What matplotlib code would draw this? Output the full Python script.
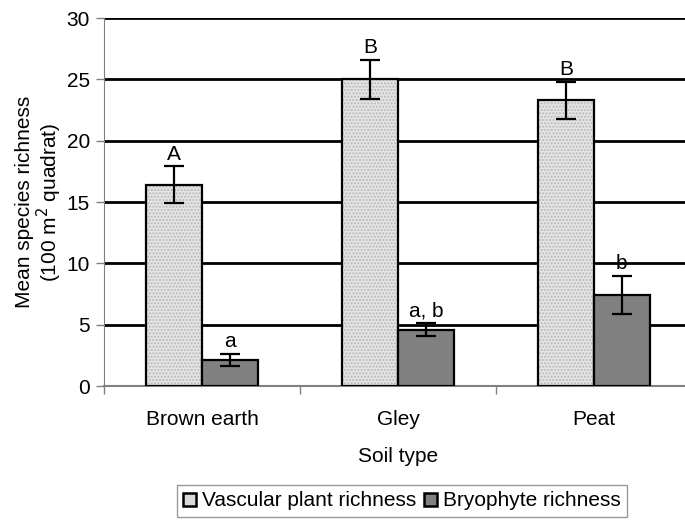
import matplotlib
matplotlib.use("Agg")
import matplotlib.pyplot as plt
from matplotlib.patches import Patch
import numpy as np

plt.rcParams['font.family'] = ['Liberation Sans', 'DejaVu Sans']

soil_types = ["Brown earth", "Gley", "Peat"]
vascular = [16.4, 25.0, 23.3]
vascular_err = [1.5, 1.6, 1.5]
bryophyte = [2.1, 4.6, 7.4]
bryophyte_err = [0.5, 0.5, 1.55]
vascular_letters = ["A", "B", "B"]
bryophyte_letters = ["a", "a, b", "b"]
yticks = [0, 5, 10, 15, 20, 25, 30]

fig = plt.figure(figsize=(6.85, 5.25), dpi=100)
ax = fig.add_axes([104/685, 1-386/525, 588/685, 368/525])

x = np.arange(len(soil_types))
w = 0.285
fs = 15

# gridlines
for t in yticks[1:]:
    ax.axhline(t, color='black', lw=2, zorder=1)

xv = x - w/2
xb = x + w/2
ax.bar(xv, vascular, w, color='#e4e4e4', edgecolor='#b8b8b8', hatch='.....', lw=0, zorder=2)
ax.bar(xv, vascular, w, fill=False, edgecolor='black', lw=1.6, zorder=3)
ax.bar(xb, bryophyte, w, color='#808080', edgecolor='black', lw=1.6, zorder=3)

ax.errorbar(xv, vascular, yerr=vascular_err, fmt='none', ecolor='black', elinewidth=1.6, capsize=7, capthick=1.6, zorder=4)
ax.errorbar(xb, bryophyte, yerr=bryophyte_err, fmt='none', ecolor='black', elinewidth=1.6, capsize=7, capthick=1.6, zorder=4)

for xi, v, e, l in zip(xv, vascular, vascular_err, vascular_letters):
    ax.annotate(l, (xi, v + e), xytext=(0, 2), textcoords='offset points', ha='center', va='bottom', fontsize=fs)
for xi, v, e, l in zip(xb, bryophyte, bryophyte_err, bryophyte_letters):
    ax.annotate(l, (xi, v + e), xytext=(0, 2), textcoords='offset points', ha='center', va='bottom', fontsize=fs)

ax.set_xlim(-0.5, 2.5)
ax.set_ylim(0, 30)
ax.set_yticks(yticks)
ax.set_yticklabels([str(t) for t in yticks], fontsize=fs)
ax.set_xticks(x)
ax.set_xticklabels(soil_types, fontsize=fs)
ax.tick_params(axis='x', length=0, pad=17)
ax.set_xticks([-0.5, 0.5, 1.5, 2.5], minor=True)
ax.tick_params(axis='x', which='minor', length=6, color='#808080', width=1)
ax.tick_params(axis='y', length=6, color='#808080', width=1, pad=4)

for s in ['top', 'right']:
    ax.spines[s].set_visible(False)
ax.spines['left'].set_color('#808080')
ax.spines['bottom'].set_color('#808080')
ax.spines['bottom'].set_linewidth(1.5)

ax.set_xlabel("Soil type", fontsize=fs, labelpad=13)
ax.set_ylabel("Mean species richness\n(100 m$^2$ quadrat)", fontsize=fs, labelpad=2, linespacing=1.05)

handles = [Patch(facecolor='#d8d8d8', edgecolor='black', lw=1.8, label='Vascular plant richness'),
           Patch(facecolor='#808080', edgecolor='black', lw=1.8, label='Bryophyte richness')]
leg = fig.legend(handles=handles, loc='center', bbox_to_anchor=(402/685, 1-501/525), ncol=2,
                 fontsize=fs, frameon=True, fancybox=False, handlelength=0.6, handleheight=0.6,
                 handletextpad=0.3, columnspacing=0.4, borderpad=0.3)
leg.get_frame().set_edgecolor('#808080')
leg.get_frame().set_linewidth(1)

fig.savefig('out.png', dpi=100)
